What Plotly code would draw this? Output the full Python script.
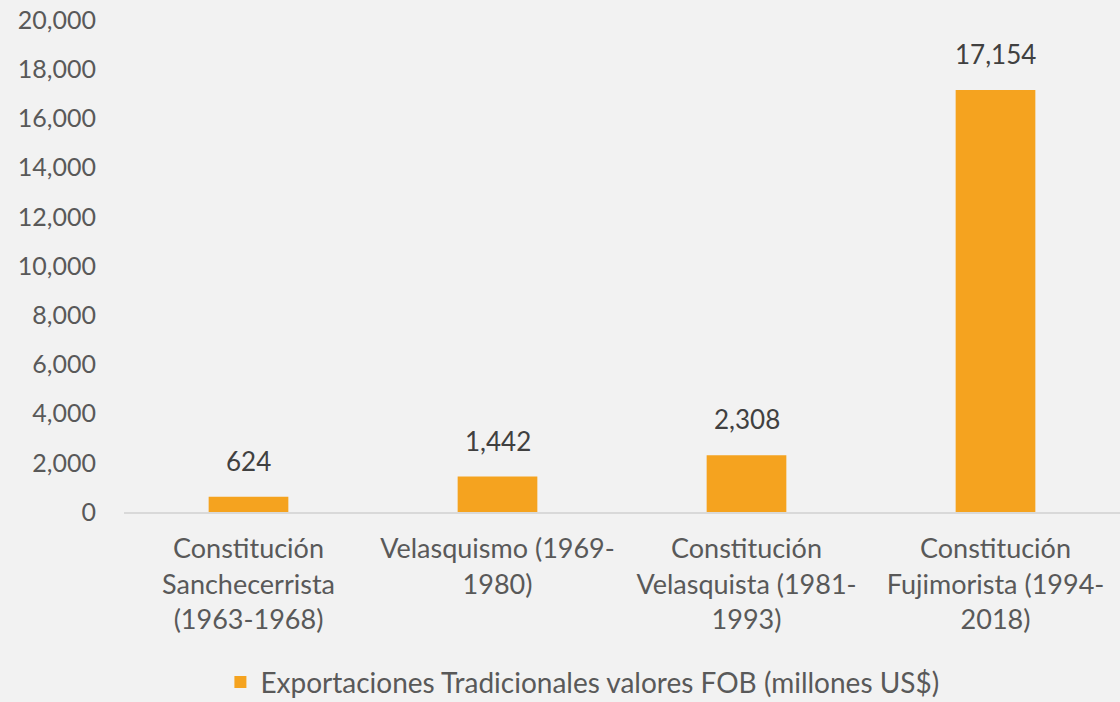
import plotly.graph_objects as go

categories = [
    "Constitución<br>Sanchecerrista<br>(1963-1968)",
    "Velasquismo (1969-<br>1980)",
    "Constitución<br>Velasquista (1981-<br>1993)",
    "Constitución<br>Fujimorista (1994-<br>2018)",
]
values = [624, 1442, 2308, 17154]
series_name = "Exportaciones Tradicionales valores FOB (millones US$)"
tick_vals = list(range(0, 20001, 2000))

FONT = "Lato, 'Open Sans', sans-serif"

fig = go.Figure()
fig.add_trace(go.Bar(
    x=categories,
    y=values,
    name=series_name,
    marker=dict(color="#F5A31F", line=dict(width=0)),
))

for c, v in zip(categories, values):
    fig.add_annotation(
        x=c, y=v, xref="x", yref="y",
        text=f"{v:,}", showarrow=False,
        yanchor="bottom", yshift=18,
        font=dict(size=26, color="#404040", family=FONT),
    )

fig.update_layout(
    width=1120,
    height=702,
    paper_bgcolor="#F2F2F2",
    plot_bgcolor="#F2F2F2",
    margin=dict(l=124, r=0, t=20, b=190),
    bargap=0.68,
    showlegend=True,
    legend=dict(
        orientation="h",
        xref="container", yref="container",
        x=0.52, xanchor="center",
        y=0.028, yanchor="middle",
        font=dict(size=28, color="#595959", family=FONT),
        bgcolor="rgba(0,0,0,0)",
    ),
    font=dict(family=FONT, color="#595959"),
)

fig.update_yaxes(
    range=[0, 20000],
    tickvals=tick_vals,
    tickformat=",d",
    showgrid=False,
    zeroline=False,
    showline=False,
    ticks="outside",
    ticklen=22,
    tickcolor="rgba(0,0,0,0)",
    tickfont=dict(size=25, color="#595959", family=FONT),
)
fig.update_xaxes(
    showgrid=False,
    showline=True,
    linecolor="#D9D9D9",
    linewidth=2,
    ticks="outside",
    ticklen=12,
    tickcolor="rgba(0,0,0,0)",
    tickfont=dict(size=27, color="#595959", family=FONT),
)

fig.write_html("out.html", config={"displayModeBar": False},
               post_script="document.body.style.margin='0';")
